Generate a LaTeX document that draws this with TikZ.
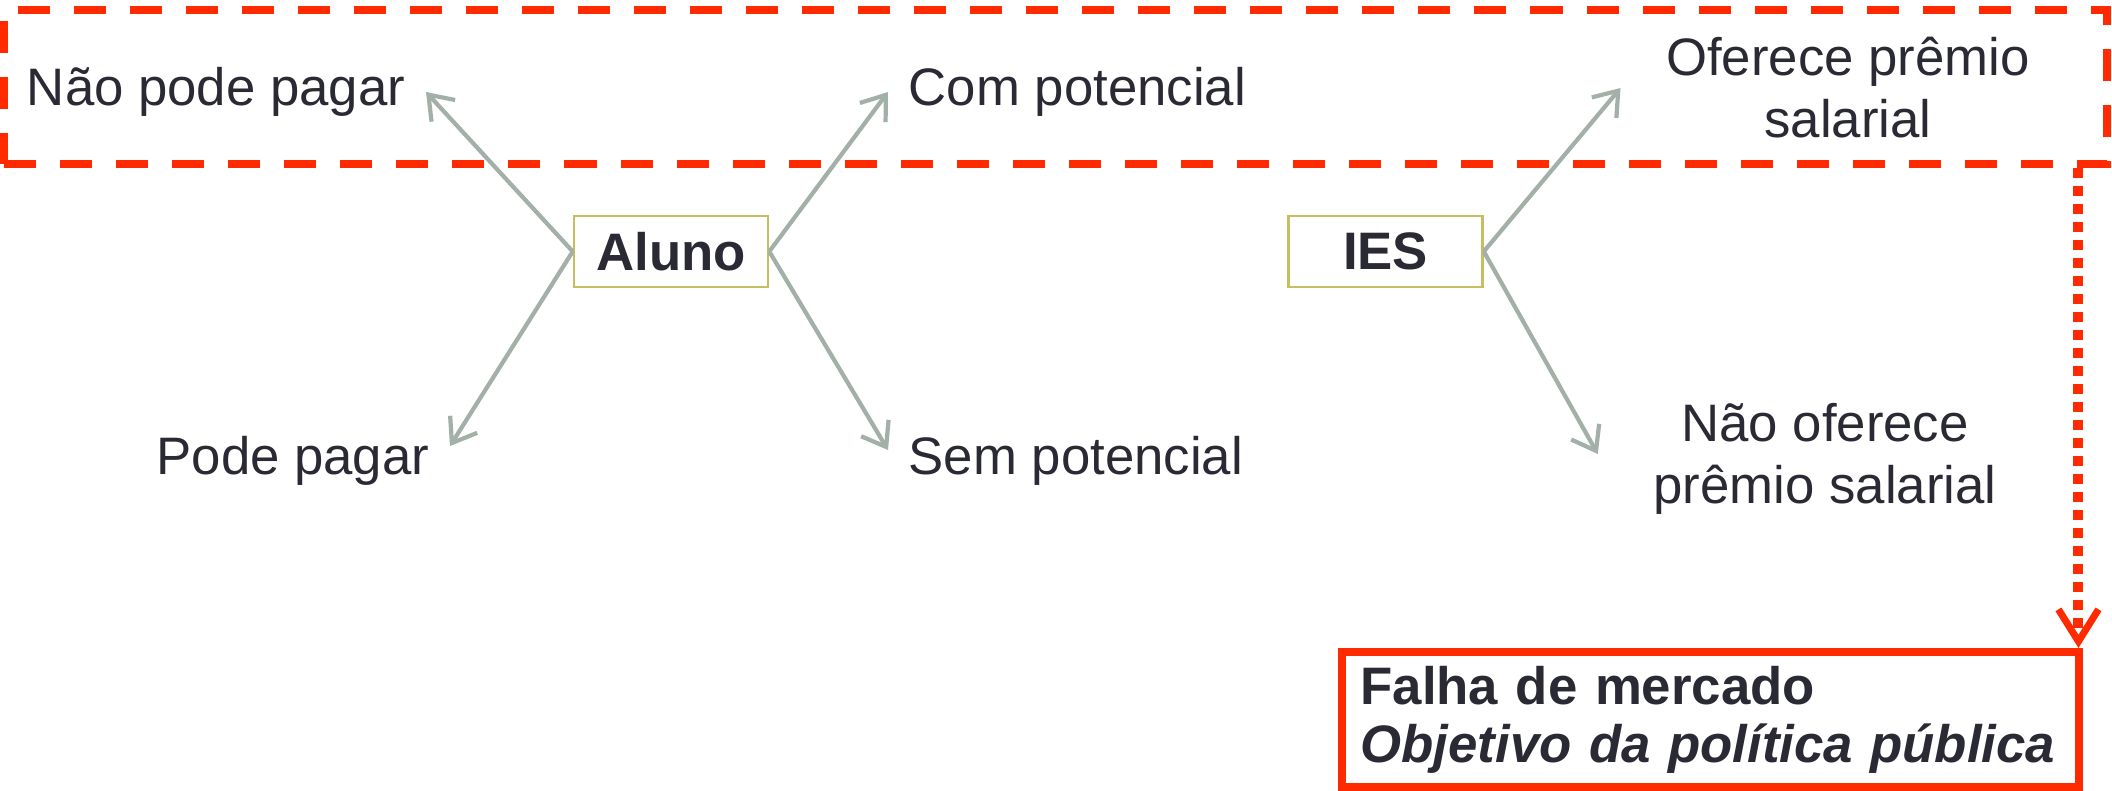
\documentclass[tikz,border=0pt]{standalone}
\usepackage{fontspec}
\setmainfont{Liberation Sans}
\usetikzlibrary{arrows.meta}

\definecolor{ink}{RGB}{42,42,52}
\definecolor{branch}{RGB}{163,176,168}
\definecolor{boxline}{RGB}{198,190,96}
\definecolor{alert}{RGB}{255,42,0}

\tikzset{
  actor/.style={draw=boxline, line width=0.7pt, text=ink,
    minimum width=1.94cm, minimum height=0.71cm,
    font=\fontsize{15}{17}\selectfont\bfseries},
  choice/.style={text=ink, align=center, inner sep=0.2cm,
    font=\fontsize{15}{17.6}\selectfont},
  branchto/.style={branch, line width=1.2pt,
    -{Straight Barb[length=2.2mm,width=3.2mm]}},
}

\begin{document}
\begin{tikzpicture}[x=0.01cm, y=-0.01cm]
\useasboundingbox (0,0) rectangle (2112,791);

% the two actors
\node[actor] (aluno) at (671,251.5) {Aluno};
\node[actor] (ies)   at (1385.5,251.5) {IES};

% what can happen to each one
\node[choice, anchor=east] (naopode)   at (426,92)  {Não pode pagar};
\node[choice, anchor=west] (compot)    at (888,92)  {Com potencial};
\node[choice, anchor=east] (podepagar) at (450,461) {Pode pagar};
\node[choice, anchor=west] (sempot)    at (888,461) {Sem potencial};
\node[choice, inner xsep=0.45cm] (oferece)    at (1848,88)  {Oferece prêmio\\salarial};
\node[choice, inner xsep=0.55cm] (naooferece) at (1825,459) {Não oferece\\prêmio salarial};

\draw[branchto] (aluno.west) -- (naopode.east);
\draw[branchto] (aluno.east) -- (compot.west);
\draw[branchto] (aluno.west) -- ([yshift=0.15cm]podepagar.east);
\draw[branchto] (aluno.east) -- ([yshift=0.11cm]sempot.west);
\draw[branchto] (ies.east) -- (oferece.west);
\draw[branchto] (ies.east) -- ([yshift=0.05cm]naooferece.west);

% the upper band and the conclusion
\node[draw=alert, line width=0.08cm, dash pattern=on 0.32cm off 0.24cm,
      minimum width=21.02cm, minimum height=1.535cm] (topband) at (1055.75,86.75) {};
\node[draw=alert, line width=0.08cm, anchor=north west, text=ink,
      minimum width=7.37cm, minimum height=1.35cm, inner xsep=0.18cm,
      text width=7.0cm, align=left, font=\fontsize{15}{16.4}\selectfont\bfseries]
      (falha) at (1338,648) {Falha de mercado\\\textit{Objetivo da política pública}};

\coordinate (drop) at ([xshift=-0.05cm]falha.north east);
\draw[alert, line width=0.1cm, dash pattern=on 0.1cm off 0.08cm,
      -{Straight Barb[length=3.2mm,width=4mm,line width=0.07cm]}] (topband.south -| drop) -- (drop);
\end{tikzpicture}
\end{document}
